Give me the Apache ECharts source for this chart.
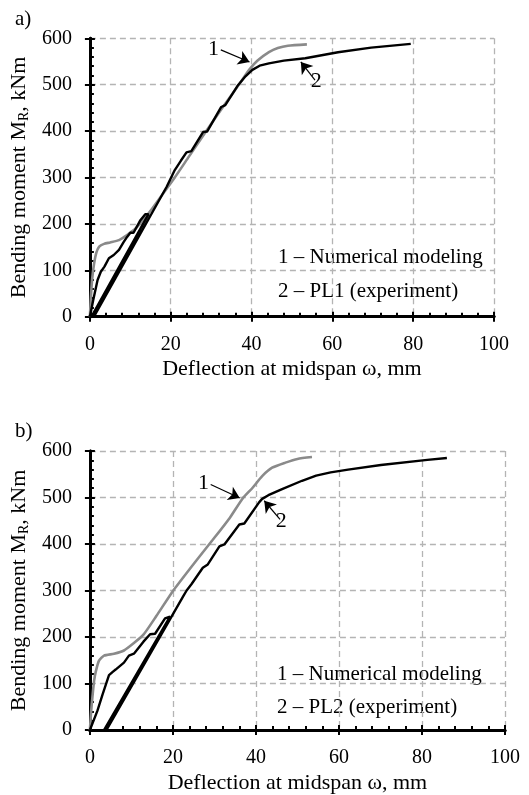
<!DOCTYPE html>
<html>
<head>
<meta charset="utf-8">
<script src="https://cdn.jsdelivr.net/npm/echarts@6/dist/echarts.min.js"></script>
<style>
html,body{margin:0;padding:0;background:#fff;}
#c{width:529px;height:795px;}
</style>
</head>
<body>
<div id="c"></div>
<script>
// ---------- data ----------
const xTicks = [0, 20, 40, 60, 80, 100];
const yTicks = [0, 100, 200, 300, 400, 500, 600];

// Panel a) numerical modeling (gray)
const numA = [[0,0],[0.3,50],[0.6,85],[1.05,115],[1.6,138],[2.3,151],[3.5,157],[5.0,160],[7.2,165],[9.2,176],[11.3,190],[13.3,210],[15,228],[17,252],[21,300],[24.5,345],[28.8,400],[33,453],[37.1,503],[39.5,533],[41.5,552],[44.3,570],[46.5,579],[49,584],[53.7,587]];
// Panel a) experiment PL1 (black): loading, unloading, reloading
const expA = [[0,0],[0.8,35],[1.9,79],[2.7,97],[3.6,108],[4.7,126],[5.9,133],[7.2,144],[8.3,160],[9.2,172],[10,181],[10.8,181],[12.5,208],[13.7,221],[14.5,221],
  [0.4,0],[1.0,0],
  [19,280],[21,316],[22.5,336],[23.9,354],[25.1,357],[28,398],[29,399],[32.5,452],[33.5,456],[36.5,497],[38.5,518],[40.2,532],[42,541],[44.3,546],[48,552],[53.3,557],[61.4,570],[69.6,580],[79.4,588]];

// Panel b) numerical modeling (gray)
const numB = [[0,0],[0.3,40],[0.6,70],[1.0,105],[1.4,125],[2.2,149],[3.4,160],[5.8,164],[8.2,171],[10.6,187],[12.9,205],[16,245],[20.1,300],[25.6,364],[29.6,409],[33.6,455],[36.8,498],[39.2,521],[41.5,546],[43.9,564],[47.1,575],[50,583],[53.5,587]];
// Panel b) experiment PL2 (black)
const expB = [[0,0],[1.8,41],[3,75],[4.6,118],[5.5,125],[6.2,130],[8.2,145],[9.4,160],[10.6,164],[12.9,190],[14.5,206],[15.7,207],[18.1,240],[19.3,244],[19.7,246],
  [3.4,0],[4.0,0],
  [22.5,288],[23.3,300],[24.5,314],[27.2,349],[28.4,356],[31.2,395],[32.4,399],[36,442],[37.2,444],[40.8,490],[41.5,497],[43,505],[46.3,518],[51.1,536],[54.5,547],[58,554],[62.2,560],[70.1,570],[81.3,581],[86,585]];

// annotation arrows: [tail, tip, label]
const arrowsA = [[[32.4,575],[39.5,549],'1'],[[55.7,510],[52.2,549],'2']];
const arrowsB = [[[29.1,528],[36.1,499],'1'],[[45.8,453],[42.0,493],'2']];

const legendA = ['1 – Numerical modeling', '2 – PL1 (experiment)'];
const legendB = ['1 – Numerical modeling', '2 – PL2 (experiment)'];

// ---------- chart ----------
const FONT = '"Liberation Serif", "Times New Roman", serif';
const chart = echarts.init(document.getElementById('c'));

function mainX(gi) {
  return {
    gridIndex: gi, type: 'value', min: 0, max: 100, interval: 20, position: 'bottom',
    name: 'Deflection at midspan ω, mm', nameLocation: 'middle', nameGap: 42,
    nameTextStyle: { fontFamily: FONT, fontSize: 22, color: '#000' },
    axisLine: { onZero: false, lineStyle: { color: '#000', width: 3 } },
    axisTick: { inside: true, length: 5, lineStyle: { color: '#000', width: 2 } },
    minorTick: { show: true, splitNumber: 5, length: 4, lineStyle: { color: '#000', width: 2 } },
    splitLine: { show: true, lineStyle: { color: '#b4b4b4', width: 1.3, type: [6, 4] } },
    axisLabel: { fontFamily: FONT, fontSize: 20, color: '#000', margin: 18 }
  };
}
function overX(gi) {
  return {
    gridIndex: gi, type: 'value', min: 0, max: 100, interval: 20, position: 'bottom',
    axisLine: { onZero: false, lineStyle: { color: '#000', width: 3 } },
    axisTick: { inside: false, length: 5, lineStyle: { color: '#000', width: 2 } },
    splitLine: { show: false }, axisLabel: { show: false }
  };
}
function mainY(gi) {
  return {
    gridIndex: gi, type: 'value', min: 0, max: 600, interval: 100, position: 'left',
    name: 'Bending moment M{s|R}, kNm', nameLocation: 'middle', nameGap: 51, nameRotate: 90,
    nameTextStyle: { fontFamily: FONT, fontSize: 22, color: '#000',
      rich: { s: { fontFamily: FONT, fontSize: 14, color: '#000', padding: [10, 0, 0, 0] } } },
    axisLine: { onZero: false, lineStyle: { color: '#000', width: 3 } },
    axisTick: { inside: true, length: 5, lineStyle: { color: '#000', width: 2 } },
    minorTick: { show: true, splitNumber: 5, length: 4, lineStyle: { color: '#000', width: 2 } },
    splitLine: { show: true, lineStyle: { color: '#b4b4b4', width: 1.3, type: [6, 4] } },
    axisLabel: { fontFamily: FONT, fontSize: 20, color: '#000', margin: 18 }
  };
}
function overY(gi) {
  return {
    gridIndex: gi, type: 'value', min: 0, max: 600, interval: 100, position: 'left',
    axisLine: { onZero: false, lineStyle: { color: '#000', width: 3 } },
    axisTick: { inside: false, length: 5, lineStyle: { color: '#000', width: 2 } },
    splitLine: { show: false }, axisLabel: { show: false }
  };
}

function arrowLines(arr) {
  return {
    silent: true, animation: false,
    symbol: ['none', 'arrow'], symbolSize: 11,
    lineStyle: { color: '#000', width: 1.2, type: 'solid', opacity: 1 },
    itemStyle: { color: '#000' },
    label: { show: true, position: 'start', fontFamily: FONT, fontSize: 22, color: '#000', distance: 2 },
    emphasis: { disabled: true },
    data: arr.map(a => [{ coord: a[0], label: { formatter: a[2] } }, { coord: a[1] }])
  };
}

function series(xi, yi, num, exp, arrows) {
  return [
    { type: 'line', xAxisIndex: xi, yAxisIndex: yi, data: num, showSymbol: false, smooth: 0.2,
      lineStyle: { color: '#8a8a8a', width: 2.6 }, z: 3, markLine: arrowLines(arrows) },
    { type: 'line', xAxisIndex: xi, yAxisIndex: yi, data: exp, showSymbol: false,
      lineStyle: { color: '#000', width: 2.4 }, z: 4 }
  ];
}

function txt(x, y, s) {
  return { type: 'text', left: x, top: y, style: { text: s, font: '21px ' + FONT, fill: '#000' } };
}

chart.setOption({
  animation: false,
  backgroundColor: '#fff',
  grid: [
    { left: 85.7, top: 38.3, width: 408.3, height: 278.4 },
    { left: 85.7, top: 451, width: 419.3, height: 285 }
  ],
  xAxis: [mainX(0), overX(0), mainX(1), overX(1)],
  yAxis: [mainY(0), overY(0), mainY(1), overY(1)],
  series: [].concat(series(0, 0, numA, expA, arrowsA), series(2, 2, numB, expB, arrowsB)),
  graphic: [
    txt(15, 9, 'a)'),
    txt(15, 421, 'b)'),
    txt(278, 247, legendA[0]), txt(278, 281, legendA[1]),
    txt(277, 664, legendB[0]), txt(277, 697, legendB[1])
  ]
});
</script>
</body>
</html>
